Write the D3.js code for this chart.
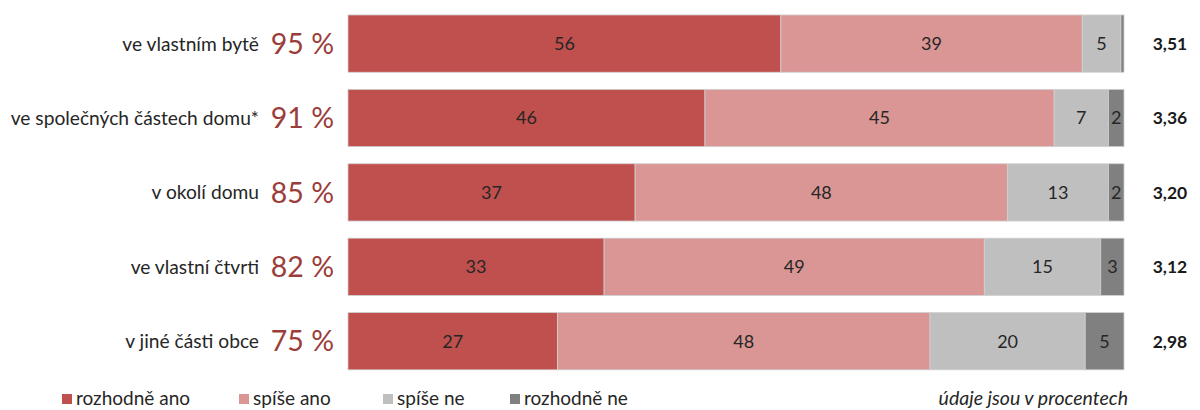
<!DOCTYPE html>
<html><head><meta charset="utf-8">
<script src="https://cdn.jsdelivr.net/npm/d3@7"></script>
<style>body{margin:0;background:#fff;} svg{display:block;font-family:Lato,"Open Sans",sans-serif;}</style>
</head><body>
<svg id="c" width="1200" height="410"></svg>
<script>
const categories = ["ve vlastním bytě","ve společných částech domu*","v okolí domu","ve vlastní čtvrti","v jiné části obce"];
const totals = ["95 %","91 %","85 %","82 %","75 %"];
const means = ["3,51","3,36","3,20","3,12","2,98"];
const seriesNames = ["rozhodně ano","spíše ano","spíše ne","rozhodně ne"];
const rozhodneAno = [56,46,37,33,27];
const spiseAno = [39,45,48,49,48];
const spiseNe = [5,7,13,15,20];
const rozhodneNe = [0.4,2,2,3,5];
const labelShown = [[true,true,true,false],[true,true,true,true],[true,true,true,true],[true,true,true,true],[true,true,true,true]];
const colors = ["#C0504D","#D99694","#BFBFBF","#808080"];

const rows = categories.map((c,i)=>({cat:c, i, [seriesNames[0]]:rozhodneAno[i],[seriesNames[1]]:spiseAno[i],[seriesNames[2]]:spiseNe[i],[seriesNames[3]]:rozhodneNe[i]}));
const stack = d3.stack().keys(seriesNames).offset(d3.stackOffsetExpand);
const layers = stack(rows);

const svg = d3.select("#c");
const x = d3.scaleLinear().domain([0,1]).range([348,1124]);
const y = d3.scaleBand().domain(categories).range([6.4,378.4]).paddingInner(0.23).paddingOuter(0.115);
const color = d3.scaleOrdinal().domain(seriesNames).range(colors);

const g = svg.append("g");
layers.forEach((layer,k)=>{
  const lg = g.append("g");
  lg.selectAll("rect").data(layer).join("rect")
    .attr("x",d=>x(d[0])).attr("y",d=>y(d.data.cat))
    .attr("width",d=>x(d[1])-x(d[0])).attr("height",y.bandwidth())
    .attr("fill",color(layer.key))
    .attr("stroke","#d0d0d0").attr("stroke-width",0.8);
  lg.selectAll("text").data(layer.filter((d,i)=>labelShown[i][k])).join("text")
    .attr("x",d=>(x(d[0])+x(d[1]))/2).attr("y",d=>y(d.data.cat)+y.bandwidth()/2)
    .attr("dy","0.36em").attr("text-anchor","middle")
    .attr("font-size",18).attr("fill","#262626")
    .text(d=>d.data[layer.key]);
});

// category labels
svg.append("g").selectAll("text").data(categories).join("text")
  .attr("x",259).attr("y",d=>y(d)+y.bandwidth()/2).attr("dy","0.36em")
  .attr("text-anchor","end").attr("font-size",19.2).attr("fill","#262626").text(d=>d);
// totals
svg.append("g").selectAll("text").data(categories).join("text")
  .attr("x",334).attr("y",d=>y(d)+y.bandwidth()/2).attr("dy","0.36em")
  .attr("text-anchor","end").attr("font-size",28.5).attr("fill","#9B3D3A").text((d,i)=>totals[i]);
// means
svg.append("g").selectAll("text").data(categories).join("text")
  .attr("x",1170).attr("y",d=>y(d)+y.bandwidth()/2).attr("dy","0.36em")
  .attr("text-anchor","middle").attr("font-size",17.5).attr("font-weight","bold").attr("fill","#1a1a1a").text((d,i)=>means[i]);

// legend
const legX = [62,239,383,510];
const leg = svg.append("g").selectAll("g").data(seriesNames).join("g")
  .attr("transform",(d,i)=>`translate(${legX[i]},0)`);
leg.append("rect").attr("x",0).attr("y",394).attr("width",10).attr("height",10).attr("fill",d=>color(d));
leg.append("text").attr("x",14).attr("y",404.5).attr("font-size",19).attr("fill","#262626").text(d=>d);

svg.append("text").attr("x",1128).attr("y",404.5).attr("text-anchor","end")
  .attr("font-size",19.5).attr("font-style","italic").attr("fill","#262626").text("údaje jsou v procentech");
</script>
</body></html>
